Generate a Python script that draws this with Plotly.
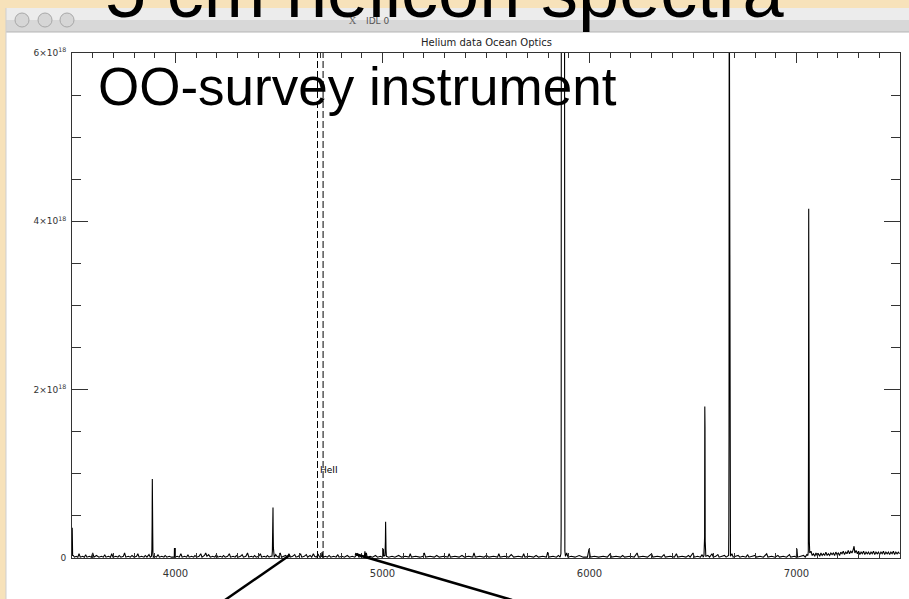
import plotly.graph_objects as go

# ---------------- data (intensity in units of 1e18) ----------------
edge_3500 = [(3500, 0.05), (3501, 0.36), (3502, 0.18), (3503, 0.03)]
noise_a = [(3506,0.03),(3512,0.01),(3520,0.02),(3528,0.01),(3534,0.05),(3540,0.01),(3552,0.02),(3560,0.01),
           (3566,0.04),(3572,0.01),(3584,0.02),(3594,0.01),(3600,0.06),(3606,0.01),(3618,0.03),(3630,0.01),
           (3642,0.02),(3652,0.01),(3658,0.04),(3664,0.01),(3676,0.02),(3686,0.01),(3692,0.05),(3698,0.01),
           (3712,0.02),(3722,0.01),(3728,0.03),(3736,0.01),(3748,0.02),(3754,0.06),(3760,0.01),(3772,0.02),
           (3782,0.01),(3790,0.03),(3800,0.01),(3812,0.02),(3818,0.05),(3824,0.01),(3836,0.02),(3848,0.01),
           (3854,0.03),(3862,0.01),(3872,0.04),(3878,0.01)]
peak_3889 = [(3884,0.02),(3886,0.1),(3887,0.39),(3888,0.94),(3889,0.64),(3890,0.3),(3891,0.05),(3893,0.01)]
noise_b = [(3900,0.02),(3908,0.01),(3916,0.04),(3922,0.01),(3934,0.02),(3944,0.01),(3950,0.03),(3958,0.01),
           (3970,0.02),(3980,0.01),(3994,0.01),(3995,0.12),(3996,0.01),(4008,0.02),(4018,0.01),(4026,0.05),
           (4032,0.01),(4044,0.02),(4054,0.01),(4060,0.04),(4066,0.01),(4078,0.02),(4088,0.01),(4094,0.03),
           (4102,0.01),(4114,0.02),(4122,0.05),(4128,0.01),(4140,0.03),(4146,0.06),(4152,0.02),(4160,0.04),
           (4168,0.01),(4180,0.02),(4190,0.01),(4198,0.04),(4204,0.01),(4216,0.02),(4226,0.01),(4232,0.03),
           (4240,0.01),(4252,0.02),(4260,0.05),(4266,0.01),(4278,0.02),(4288,0.01),(4294,0.03),(4302,0.01),
           (4314,0.02),(4322,0.04),(4328,0.01),(4340,0.02),(4348,0.06),(4354,0.01),(4366,0.02),(4376,0.01),
           (4382,0.03),(4390,0.01),(4402,0.02),(4410,0.05),(4416,0.01),(4428,0.02),(4438,0.01),(4444,0.03),
           (4452,0.01),(4460,0.02)]
peak_4471 = [(4466,0.02),(4468,0.08),(4469,0.2),(4470,0.42),(4471,0.6),(4472,0.3),(4473,0.12),(4475,0.04),(4477,0.01)]
noise_c = [(4484,0.04),(4490,0.02),(4498,0.01),(4506,0.06),(4512,0.01),(4524,0.02),(4532,0.03),(4540,0.01),
           (4548,0.05),(4554,0.01),(4566,0.02),(4576,0.04),(4582,0.01),(4594,0.02),(4604,0.05),(4610,0.01),
           (4622,0.02),(4632,0.04),(4638,0.01),(4650,0.03),(4658,0.01),(4666,0.05),(4672,0.02),(4680,0.01),
           (4690,0.04),(4696,0.01),(4706,0.02),(4708,0.07),(4712,0.01),(4724,0.02),(4734,0.01),(4742,0.03),
           (4750,0.01),(4764,0.02),(4776,0.01),(4784,0.04),(4790,0.01),(4804,0.02),(4816,0.01),(4830,0.03),
           (4840,0.01),(4854,0.02),(4866,0.01),(4880,0.05),(4886,0.01),(4900,0.02),(4912,0.01),(4915,0.08),
           (4918,0.02),(4922,0.06),(4926,0.01),(4940,0.02),(4952,0.01),(4966,0.03),(4976,0.01),(4990,0.02),
           (4998,0.01)]
peak_5016 = [(5002,0.02),(5004,0.11),(5006,0.02),(5012,0.03),(5014,0.2),(5015,0.43),(5016,0.3),(5017,0.1),(5019,0.02)]
noise_d = [(5030,0.01),(5046,0.02),(5060,0.01),(5078,0.03),(5092,0.01),(5110,0.02),(5128,0.01),(5134,0.05),
           (5140,0.01),(5160,0.02),(5180,0.01),(5196,0.02),(5202,0.06),(5208,0.01),(5230,0.02),(5250,0.01),
           (5262,0.03),(5274,0.01),(5296,0.02),(5316,0.01),(5322,0.05),(5328,0.01),(5350,0.02),(5370,0.01),
           (5384,0.03),(5396,0.01),(5416,0.02),(5436,0.01),(5442,0.06),(5448,0.01),(5470,0.02),(5490,0.01),
           (5502,0.03),(5514,0.01),(5536,0.02),(5556,0.01),(5562,0.05),(5568,0.01),(5590,0.02),(5610,0.01),
           (5622,0.04),(5634,0.01),(5656,0.02),(5676,0.01),(5682,0.05),(5688,0.01),(5710,0.02),(5730,0.01),
           (5742,0.03),(5754,0.01),(5774,0.02),(5792,0.01),(5798,0.07),(5804,0.01),(5824,0.02),(5840,0.01),
           (5850,0.03),(5858,0.01)]
peak_5876 = [(5862,0.05),(5863,0.3),(5864,8.0),(5879,8.0),(5880,0.3),(5881,0.08),(5884,0.02)]
noise_e = [(5890,0.06),(5896,0.01),(5912,0.02),(5930,0.01),(5950,0.03),(5970,0.01),(5990,0.01),(5998,0.11),
           (6004,0.01),(6024,0.02),(6044,0.01),(6066,0.02),(6086,0.01),(6100,0.05),(6106,0.01),(6128,0.02),
           (6150,0.01),(6160,0.03),(6170,0.01),(6196,0.02),(6216,0.01),(6230,0.06),(6236,0.01),(6258,0.02),
           (6280,0.01),(6300,0.05),(6306,0.01),(6328,0.02),(6348,0.01),(6360,0.04),(6366,0.01),(6390,0.02),
           (6410,0.01),(6420,0.05),(6426,0.01),(6448,0.02),(6466,0.01),(6478,0.03),(6486,0.01),(6500,0.06),
           (6506,0.01),(6522,0.02),(6536,0.01),(6544,0.04),(6550,0.01)]
peak_6563 = [(6553,0.03),(6555,0.13),(6556,0.25),(6557,1.8),(6558,1.56),(6559,0.2),(6560,0.1),(6562,0.02)]
noise_f = [(6572,0.03),(6580,0.01),(6592,0.05),(6598,0.01),(6610,0.02),(6620,0.04),(6626,0.01),(6640,0.02),
           (6652,0.03),(6660,0.01),(6668,0.02)]
peak_6678 = [(6672,0.03),(6673,0.3),(6674,1.44),(6675,7.5),(6676,5.6),(6677,2.0),(6678,0.43),(6679,0.08),(6681,0.02)]
noise_g = [(6688,0.05),(6694,0.01),(6706,0.02),(6718,0.03),(6726,0.01),(6740,0.02),(6756,0.01),(6764,0.04),
           (6770,0.01),(6786,0.02),(6800,0.03),(6806,0.01),(6824,0.02),(6840,0.01),(6856,0.05),(6862,0.01),
           (6880,0.02),(6896,0.01),(6910,0.03),(6918,0.01),(6936,0.02),(6952,0.01),(6966,0.04),(6972,0.01),
           (6990,0.02),(6999,0.01),(7002,0.11),(7005,0.01),(7020,0.02),(7034,0.03),(7042,0.01),(7050,0.04)]
peak_7065 = [(7055,0.03),(7057,0.08),(7058,1.4),(7059,4.15),(7060,2.93),(7061,1.4),(7062,0.2),(7064,0.06)]
noise_h = [(7070,0.08),(7076,0.03),(7082,0.05),(7088,0.02),(7094,0.06),(7100,0.03),(7106,0.05),(7112,0.02),
           (7118,0.06),(7124,0.03),(7130,0.05),(7136,0.03),(7142,0.07),(7148,0.03),(7154,0.05),(7160,0.03),
           (7166,0.06),(7172,0.04),(7178,0.06),(7184,0.03),(7190,0.07),(7196,0.04),(7202,0.06),(7208,0.03),
           (7214,0.07),(7220,0.05),(7226,0.08),(7232,0.04),(7238,0.07),(7244,0.05),(7250,0.09),(7256,0.05),
           (7262,0.08),(7268,0.06),(7274,0.1),(7278,0.14),(7282,0.06),(7288,0.09),(7294,0.05),(7300,0.08),
           (7306,0.04),(7312,0.07),(7318,0.05),(7324,0.08),(7330,0.04),(7336,0.07),(7342,0.05),(7348,0.07),
           (7354,0.04),(7360,0.07),(7366,0.05),(7372,0.08),(7378,0.04),(7384,0.07),(7390,0.05),(7396,0.07),
           (7402,0.04),(7408,0.07),(7414,0.05),(7420,0.08),(7426,0.04),(7432,0.07),(7438,0.05),(7444,0.07),
           (7450,0.04),(7456,0.07),(7462,0.05),(7468,0.08),(7474,0.04),(7480,0.07),(7486,0.05),(7492,0.07),
           (7498,0.05)]

dashed_lines_wl = [4686, 4713]
label_text = "HeII"
label_wl = 4686
label_level_e18 = 1.05

x_range = [3500, 7500]
y_range_e18 = [0, 6]
x_major_step = 1000
x_minor_step = 100
y_major_step_e18 = 2
y_minor_step_e18 = 0.5

plot_title = "Helium data Ocean Optics"
slide_title = "5 cm helicon spectra"
slide_subtitle = "OO-survey instrument"
window_title = "IDL 0"

# ---------------- build ----------------
segments = [edge_3500, noise_a, peak_3889, noise_b, peak_4471, noise_c, peak_5016, noise_d,
            peak_5876, noise_e, peak_6563, noise_f, peak_6678, noise_g, peak_7065, noise_h]
pts = sorted(p for seg in segments for p in seg)
wl = [p[0] for p in pts]
inten = [p[1] * 1e18 for p in pts]

W, H = 909, 599
L, R, T, B = 72, 900, 53, 558


def px(x):
    return (x - L) / (R - L)


def py(y):
    return (B - y) / (B - T)


fig = go.Figure()
fig.add_trace(go.Scatter(x=wl, y=inten, mode="lines",
                         line=dict(color="black", width=1.1), hoverinfo="skip", showlegend=False))

shapes = []
# window background and title bar
shapes.append(dict(type="rect", xref="paper", yref="paper", x0=px(6), x1=px(915), y0=py(605), y1=py(32),
                   fillcolor="white", line=dict(width=0), layer="below"))
shapes.append(dict(type="rect", xref="paper", yref="paper", x0=px(6), x1=px(915), y0=py(20), y1=py(8),
                   fillcolor="#ececec", line=dict(width=0), layer="below"))
shapes.append(dict(type="rect", xref="paper", yref="paper", x0=px(6), x1=px(915), y0=py(32), y1=py(20),
                   fillcolor="#d8d8d8", line=dict(width=0), layer="below"))
shapes.append(dict(type="line", xref="paper", yref="paper", x0=px(6), x1=px(915), y0=py(32), y1=py(32),
                   line=dict(color="#b5b5b5", width=1), layer="below"))
shapes.append(dict(type="line", xref="paper", yref="paper", x0=px(6), x1=px(6), y0=py(8), y1=py(605),
                   line=dict(color="#cfcfcf", width=1), layer="below"))
for cx in (22, 45, 67):
    shapes.append(dict(type="circle", xref="paper", yref="paper", x0=px(cx - 7), x1=px(cx + 7),
                       y0=py(20 + 7), y1=py(20 - 7), fillcolor="#d6d6d6",
                       line=dict(color="#a8a8a8", width=1), layer="below"))
# dashed reference lines
for d in dashed_lines_wl:
    shapes.append(dict(type="line", xref="x", yref="paper", x0=d, x1=d, y0=0, y1=1,
                       line=dict(color="black", width=1, dash="7px,3px")))
# slide annotation strokes
shapes.append(dict(type="line", xref="paper", yref="paper", x0=px(225), y0=py(600), x1=px(290), y1=py(555),
                   line=dict(color="black", width=2.5)))
shapes.append(dict(type="line", xref="paper", yref="paper", x0=px(355), y0=py(554), x1=px(512), y1=py(600),
                   line=dict(color="black", width=2.5)))

annotations = [
    dict(text=slide_title, xref="paper", yref="paper", x=px(103), y=py(-8), xanchor="left", yanchor="middle",
         showarrow=False, font=dict(family="Liberation Sans", size=74, color="black")),
    dict(text=window_title, xref="paper", yref="paper", x=px(364), y=py(21), xanchor="left", yanchor="middle",
         showarrow=False, font=dict(family="DejaVu Sans", size=9, color="#555")),
    dict(text="X", xref="paper", yref="paper", x=px(353), y=py(21), xanchor="center", yanchor="middle",
         showarrow=False, font=dict(family="DejaVu Serif", size=10, color="#666")),
    dict(text=plot_title, xref="paper", yref="paper", x=0.5, y=py(43), xanchor="center", yanchor="middle",
         showarrow=False, font=dict(family="DejaVu Sans", size=10, color="#222")),
    dict(text=slide_subtitle, xref="paper", yref="paper", x=px(96), y=py(86.5), xanchor="left", yanchor="middle",
         showarrow=False, font=dict(family="Liberation Sans", size=53, color="black")),
    dict(text=label_text, xref="x", yref="y", x=label_wl, y=label_level_e18 * 1e18, xanchor="left",
         yanchor="middle", showarrow=False, font=dict(family="DejaVu Sans", size=9, color="black")),
]

axis_common = dict(showgrid=False, zeroline=False, showline=True, linecolor="#333", linewidth=1,
                   mirror="ticks", ticks="inside", tickcolor="#333", tickwidth=1)

fig.update_layout(
    width=W, height=H,
    margin=dict(l=L, r=W - R, t=T, b=H - B, pad=0),
    paper_bgcolor="#f7e2ba",
    plot_bgcolor="white",
    shapes=shapes,
    annotations=annotations,
    xaxis=dict(range=x_range, tick0=0, dtick=x_major_step, ticklen=10,
               minor=dict(ticks="inside", ticklen=5, dtick=x_minor_step, tick0=0, tickcolor="#333"),
               tickfont=dict(family="DejaVu Sans", size=10, color="#333"), ticklabelstandoff=6,
               **axis_common),
    yaxis=dict(range=[v * 1e18 for v in y_range_e18], tick0=0, dtick=y_major_step_e18 * 1e18, ticklen=16,
               minor=dict(ticks="inside", ticklen=9, dtick=y_minor_step_e18 * 1e18, tick0=0, tickcolor="#333"),
               exponentformat="power", showexponent="all",
               tickfont=dict(family="DejaVu Sans", size=9, color="#333"), ticklabelstandoff=3,
               **axis_common),
)

fig.write_html("out.html")
